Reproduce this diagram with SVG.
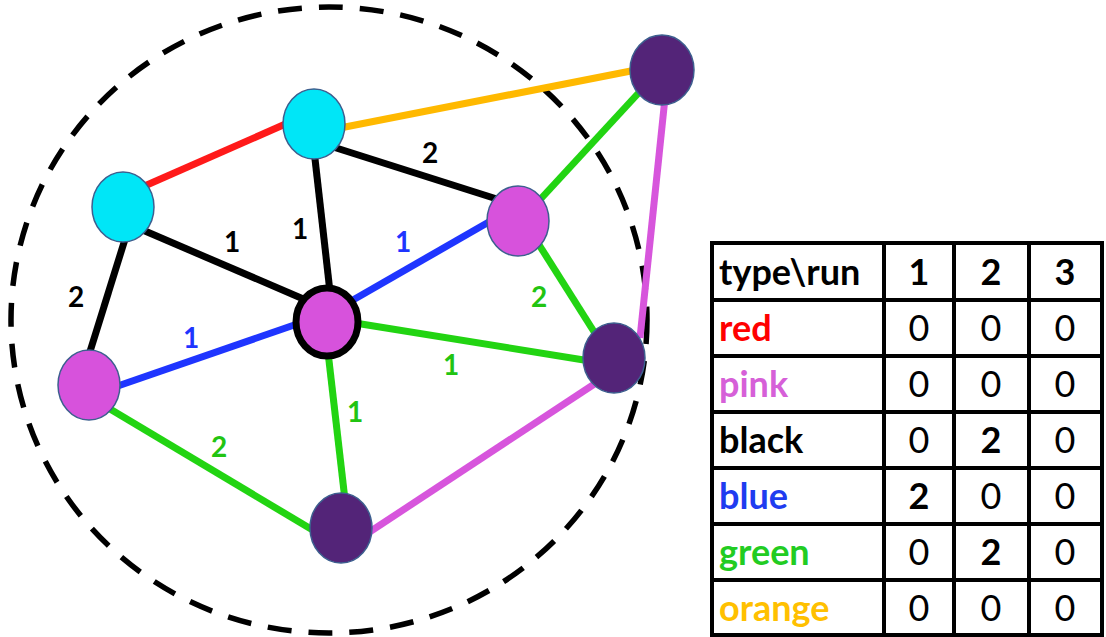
<svg xmlns="http://www.w3.org/2000/svg" width="1106" height="637" viewBox="0 0 1106 637">
<style>
.e{stroke-width:7;stroke-linecap:butt;fill:none}
.red{stroke:#ff1a1a}.org{stroke:#ffb900}.blk{stroke:#000}.blu{stroke:#1f35ff}.grn{stroke:#22d412}.pnk{stroke:#d755dc}
.n{stroke:#3d5f8f;stroke-width:1.5}
.cy{fill:#00e6f7}.pk{fill:#d752dc}.pu{fill:#532478}
.lb{font-family:Lato,"Open Sans",sans-serif;font-weight:bold;font-size:28px;text-anchor:middle;dominant-baseline:central}
.tt{font-family:Lato,"Liberation Sans",sans-serif;font-size:36px}
.b{font-weight:bold}
.c{text-anchor:middle}
.grid{stroke:#000;stroke-width:4;fill:none}
</style>
<rect width="1106" height="637" fill="#ffffff"/>
<ellipse cx="329" cy="320" rx="318" ry="313" fill="none" stroke="#000" stroke-width="5.5" stroke-dasharray="24 17"/>
<g id="connectors">
<line class="e red" x1="140" y1="188" x2="290" y2="122"/>
<line class="e org" x1="340" y1="128" x2="636" y2="70"/>
<line class="e blk" x1="330" y1="146" x2="500" y2="200"/>
<line class="e blk" x1="314" y1="150" x2="330" y2="292"/>
<line class="e blk" x1="138" y1="228" x2="308" y2="301"/>
<line class="e blk" x1="126" y1="236" x2="88" y2="358"/>
<line class="e blu" x1="346" y1="304" x2="494" y2="219"/>
<line class="e blu" x1="112" y1="388" x2="300" y2="323"/>
<line class="e grn" x1="536" y1="204" x2="645" y2="86"/>
<line class="e grn" x1="536" y1="240" x2="598" y2="338"/>
<line class="e grn" x1="355" y1="323" x2="590" y2="361"/>
<line class="e grn" x1="328" y1="352" x2="345" y2="500"/>
<line class="e grn" x1="105" y1="406" x2="316" y2="532"/>
<line class="e pnk" x1="665" y1="98" x2="640" y2="338"/>
<line class="e pnk" x1="602" y1="379" x2="368" y2="533"/>
</g>
<g id="edge-labels">
<text class="lb" x="430" y="152" fill="#000">2</text>
<text class="lb" x="300" y="228" fill="#000">1</text>
<text class="lb" x="232" y="241" fill="#000">1</text>
<text class="lb" x="76" y="296" fill="#000">2</text>
<text class="lb" x="403" y="241" fill="#1f35ff">1</text>
<text class="lb" x="191" y="337" fill="#1f35ff">1</text>
<text class="lb" x="539" y="296" fill="#22c412">2</text>
<text class="lb" x="451" y="364" fill="#22c412">1</text>
<text class="lb" x="355" y="411" fill="#22c412">1</text>
<text class="lb" x="219" y="446" fill="#22c412">2</text>
</g>
<g id="node-top-cyan"><ellipse class="n cy" cx="314" cy="124" rx="31" ry="35"/></g>
<g id="node-left-cyan"><ellipse class="n cy" cx="123" cy="207" rx="31" ry="35"/></g>
<g id="node-left-pink"><ellipse class="n pk" cx="89" cy="385" rx="31" ry="35"/></g>
<g id="node-center"><ellipse cx="327" cy="322" rx="31" ry="34" fill="#d752dc" stroke="#000" stroke-width="7"/></g>
<g id="node-right-pink"><ellipse class="n pk" cx="518" cy="221" rx="31" ry="35"/></g>
<g id="node-tr-purple"><ellipse class="n pu" cx="662" cy="70" rx="32" ry="35"/></g>
<g id="node-r-purple"><ellipse class="n pu" cx="614" cy="358" rx="31" ry="35"/></g>
<g id="node-b-purple"><ellipse class="n pu" cx="341" cy="528" rx="31" ry="35"/></g>
<g id="table">
<rect class="grid" x="712" y="243" width="390" height="392"/>
<line class="grid" x1="884" y1="243" x2="884" y2="635"/>
<line class="grid" x1="954" y1="243" x2="954" y2="635"/>
<line class="grid" x1="1029" y1="243" x2="1029" y2="635"/>
<line class="grid" x1="712" y1="300" x2="1102" y2="300"/>
<line class="grid" x1="712" y1="356" x2="1102" y2="356"/>
<line class="grid" x1="712" y1="412" x2="1102" y2="412"/>
<line class="grid" x1="712" y1="468" x2="1102" y2="468"/>
<line class="grid" x1="712" y1="524" x2="1102" y2="524"/>
<line class="grid" x1="712" y1="580" x2="1102" y2="580"/>
<g class="tt">
<text class="b" x="719" y="285" fill="#000">type\run</text>
<text class="b c" x="919" y="285">1</text>
<text class="b c" x="991" y="285">2</text>
<text class="b c" x="1065" y="285">3</text>
<text class="b" x="719" y="341" fill="#ff0000">red</text>
<text class="b" x="719" y="397" fill="#d660d8">pink</text>
<text class="b" x="719" y="453" fill="#000">black</text>
<text class="b" x="719" y="509" fill="#1f3cf0">blue</text>
<text class="b" x="719" y="565" fill="#22cc22">green</text>
<text class="b" x="719" y="621" fill="#ffc000">orange</text>
<text class="c" x="919" y="341">0</text><text class="c" x="991" y="341">0</text><text class="c" x="1065" y="341">0</text>
<text class="c" x="919" y="397">0</text><text class="c" x="991" y="397">0</text><text class="c" x="1065" y="397">0</text>
<text class="c" x="919" y="453">0</text><text class="c b" x="991" y="453">2</text><text class="c" x="1065" y="453">0</text>
<text class="c b" x="919" y="509">2</text><text class="c" x="991" y="509">0</text><text class="c" x="1065" y="509">0</text>
<text class="c" x="919" y="565">0</text><text class="c b" x="991" y="565">2</text><text class="c" x="1065" y="565">0</text>
<text class="c" x="919" y="621">0</text><text class="c" x="991" y="621">0</text><text class="c" x="1065" y="621">0</text>
</g>
</g>
</svg>
